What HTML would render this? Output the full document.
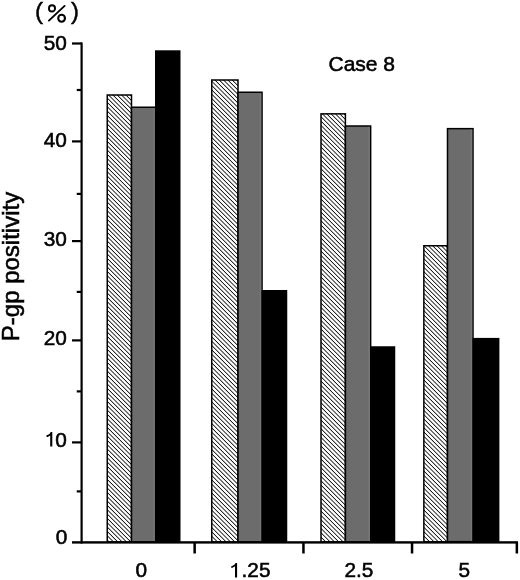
<!DOCTYPE html>
<html>
<head>
<meta charset="utf-8">
<style>
html,body{margin:0;padding:0;background:#fff;}
body{width:520px;height:580px;overflow:hidden;position:relative;}
svg{position:absolute;left:0;top:0;display:block;will-change:transform;}
text{font-family:"Liberation Sans",sans-serif;fill:#000;}
</style>
</head>
<body>
<svg width="520" height="580" viewBox="0 0 520 580">
<defs>
<pattern id="h" patternUnits="userSpaceOnUse" width="3.0641" height="20" patternTransform="rotate(-45)">
<rect x="0" y="0" width="0.8" height="20" fill="#000"/>
</pattern>
</defs>
<rect x="0" y="0" width="520" height="580" fill="#fff"/>

<!-- Group 1 -->
<rect x="107.25" y="95" width="24.25" height="447" fill="url(#h)" stroke="#000" stroke-width="1.5"/>
<rect x="131.5" y="107.25" width="24.05" height="434.75" fill="#6c6c6c" stroke="#000" stroke-width="1.5"/>
<rect x="153.3" y="108" width="1.5" height="433" fill="#777"/>
<rect x="155" y="50.3" width="25.5" height="492" fill="#000"/>

<!-- Group 2 -->
<rect x="211.75" y="80" width="26.25" height="462" fill="url(#h)" stroke="#000" stroke-width="1.5"/>
<rect x="238" y="92.25" width="24.05" height="449.75" fill="#6c6c6c" stroke="#000" stroke-width="1.5"/>
<rect x="259.8" y="93" width="1.5" height="448" fill="#777"/>
<rect x="261.5" y="290" width="25.75" height="252" fill="#000"/>

<!-- Group 3 -->
<rect x="321" y="113.85" width="24.4" height="428" fill="url(#h)" stroke="#000" stroke-width="1.5"/>
<rect x="345.4" y="126" width="25.25" height="416" fill="#6c6c6c" stroke="#000" stroke-width="1.5"/>
<rect x="368.4" y="126.8" width="1.5" height="414" fill="#777"/>
<rect x="370" y="346.25" width="25.25" height="196" fill="#000"/>

<!-- Group 4 -->
<rect x="423.85" y="245.75" width="23.6" height="296" fill="url(#h)" stroke="#000" stroke-width="1.5"/>
<rect x="447.5" y="128.65" width="25.5" height="413" fill="#6c6c6c" stroke="#000" stroke-width="1.5"/>
<rect x="470.75" y="129.4" width="1.5" height="412" fill="#777"/>
<rect x="472.5" y="337.9" width="26.9" height="204" fill="#000"/>

<!-- Axes -->
<rect x="80.5" y="42.5" width="2.2" height="501" fill="#000"/>
<rect x="72" y="541.2" width="446" height="2.4" fill="#000"/>
<!-- y major ticks -->
<rect x="72" y="42.4" width="10" height="2.2" fill="#000"/>
<rect x="72" y="140.3" width="10" height="2.2" fill="#000"/>
<rect x="72" y="240" width="10" height="2.2" fill="#000"/>
<rect x="72" y="339.3" width="10" height="2.2" fill="#000"/>
<rect x="72" y="441.3" width="10" height="2.2" fill="#000"/>
<!-- y minor ticks -->
<rect x="76.75" y="88.9" width="5" height="2.2" fill="#000"/>
<rect x="76.75" y="192.8" width="5" height="2.2" fill="#000"/>
<rect x="76.75" y="290.8" width="5" height="2.2" fill="#000"/>
<rect x="76.75" y="390.3" width="5" height="2.2" fill="#000"/>
<rect x="76.75" y="490.3" width="5" height="2.2" fill="#000"/>
<!-- x ticks -->
<rect x="193.4" y="542" width="2.5" height="11.5" fill="#000"/>
<rect x="302.2" y="542" width="2.5" height="11.5" fill="#000"/>
<rect x="410.8" y="542" width="2.5" height="11.5" fill="#000"/>
<rect x="515.6" y="542" width="2.5" height="11.5" fill="#000"/>

<!-- y tick labels -->
<g font-size="20.8" text-anchor="end" stroke="#000" stroke-width="0.55">
<text x="66.8" y="49.5">50</text>
<text x="66.8" y="147">40</text>
<text x="66.8" y="246.3">30</text>
<text x="66.8" y="344.9">20</text>
<text x="66.8" y="446.5">0</text>
<text x="67.3" y="543.6">0</text>
</g>

<!-- x labels -->
<g font-size="20.8" text-anchor="middle" stroke="#000" stroke-width="0.55">
<text x="141.4" y="577.4">0</text>
<text x="241.6" y="577.4" text-anchor="start">.25</text>
<text x="358.9" y="577.4">2.5</text>
<text x="464.2" y="577.4">5</text>
</g>

<!-- custom "1" glyphs -->
<path transform="translate(52.3,446.6)" d="M0,-14.5 L-1.6,-14.5 C-2.2,-12.8 -3.8,-11.6 -5.8,-11.3 L-5.8,-9.6 C-4.3,-9.8 -3,-10.4 -2.1,-11.2 L-2.1,0 L0,0 Z" fill="#000"/>
<path transform="translate(237.1,577.5)" d="M0,-14.5 L-1.6,-14.5 C-2.2,-12.8 -3.8,-11.6 -5.8,-11.3 L-5.8,-9.6 C-4.3,-9.8 -3,-10.4 -2.1,-11.2 L-2.1,0 L0,0 Z" fill="#000"/>

<!-- (%) -->
<text x="35.1" y="19.4" font-size="24" stroke="#000" stroke-width="0.45">(</text>
<g fill="none" stroke="#000">
<ellipse cx="52" cy="8.4" rx="3.05" ry="3.15" stroke-width="1.9"/>
<ellipse cx="61.6" cy="18.3" rx="3.35" ry="3.5" stroke-width="2.1"/>
<line x1="48.9" y1="20.6" x2="64.6" y2="5.9" stroke-width="1.9" stroke-linecap="round"/>
</g>
<text x="71" y="19.4" font-size="24" stroke="#000" stroke-width="0.45">)</text>

<!-- Case 8 -->
<text x="328.5" y="71.3" font-size="21" stroke="#000" stroke-width="0.55">Case 8</text>

<!-- y title -->
<text transform="translate(19.4,341.2) rotate(-90)" font-size="24" stroke="#000" stroke-width="0.55">P-gp positivity</text>
</svg>
</body>
</html>
